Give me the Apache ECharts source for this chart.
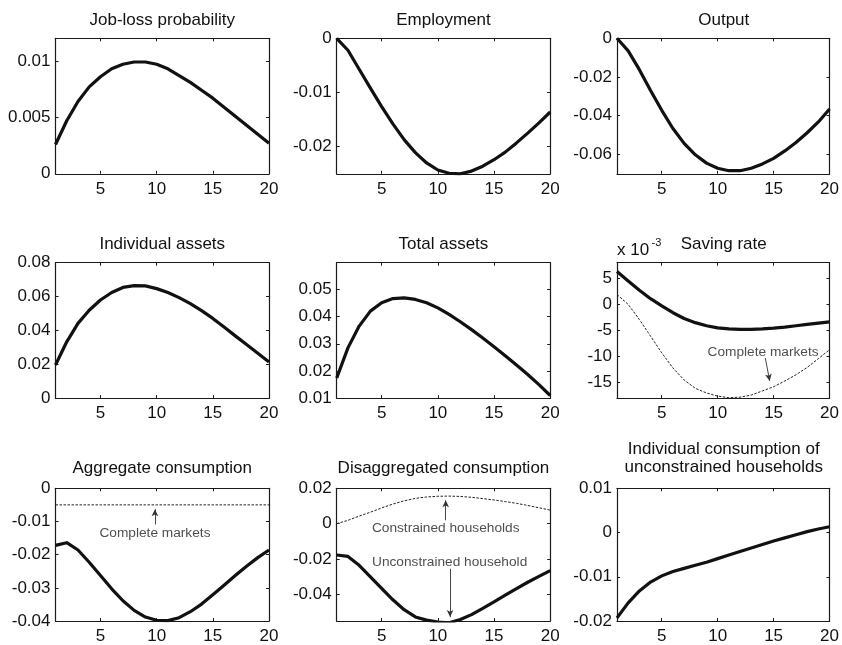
<!DOCTYPE html>
<html>
<head>
<meta charset="utf-8">
<script src="https://cdn.jsdelivr.net/npm/echarts@6/dist/echarts.min.js"></script>
<style>
html,body{margin:0;padding:0;background:#fff;}
#chart{width:842px;height:645px;}
</style>
</head>
<body>
<div id="chart"></div>
<script>
// ---------- data ----------
const periods = [1,2,3,4,5,6,7,8,9,10,11,12,13,14,15,16,17,18,19,20];
const xTicks = [5,10,15,20];

const jobLoss = [0.0026,0.0047,0.0064,0.0077,0.0086,0.0093,0.0097,0.0099,0.0099,0.0097,0.0093,0.0087,0.0081,0.0074,0.0067,0.0059,0.0051,0.0043,0.0035,0.0027];
const employment = [0,-0.0022,-0.0057,-0.0092,-0.0126,-0.0158,-0.0187,-0.0211,-0.0230,-0.0243,-0.0249,-0.0250,-0.0245,-0.0236,-0.0224,-0.0210,-0.0193,-0.0175,-0.0156,-0.0136];
const output = [0,-0.0065,-0.0162,-0.0270,-0.0372,-0.0466,-0.0543,-0.0602,-0.0645,-0.0671,-0.0684,-0.0684,-0.0671,-0.0649,-0.0620,-0.0582,-0.0538,-0.0488,-0.0432,-0.0365];
const individualAssets = [0.0196,0.0333,0.0442,0.0519,0.0580,0.0624,0.0654,0.0665,0.0663,0.0647,0.0624,0.0594,0.0558,0.0517,0.0471,0.0420,0.0368,0.0317,0.0265,0.0214];
const totalAssets = [0.0174,0.0285,0.0365,0.0420,0.0451,0.0466,0.0469,0.0463,0.0451,0.0432,0.0408,0.0381,0.0352,0.0321,0.0289,0.0256,0.0222,0.0187,0.0150,0.0110];
// saving rate in units of 10^-3
const savingRate = [6.3,4.5,2.7,1.1,-0.3,-1.6,-2.7,-3.5,-4.1,-4.5,-4.7,-4.8,-4.8,-4.7,-4.55,-4.35,-4.1,-3.85,-3.6,-3.35];
const savingRateComplete = [1.9,0,-2.9,-6.1,-9.3,-12.2,-14.5,-16.1,-17.0,-17.6,-17.9,-17.8,-17.4,-16.6,-15.8,-14.7,-13.5,-12.1,-10.4,-8.7];
const aggConsumption = [-0.0172,-0.0164,-0.0186,-0.0223,-0.0263,-0.0303,-0.0339,-0.0368,-0.0388,-0.0398,-0.0399,-0.0390,-0.0372,-0.0349,-0.0321,-0.0292,-0.0263,-0.0235,-0.0209,-0.0186];
const aggConsumptionComplete = [-0.005,-0.005,-0.005,-0.005,-0.005,-0.005,-0.005,-0.005,-0.005,-0.005,-0.005,-0.005,-0.005,-0.005,-0.005,-0.005,-0.005,-0.005,-0.005,-0.005];
const constrainedCons = [0,0.0019,0.0043,0.0065,0.0089,0.0111,0.0129,0.0143,0.0151,0.0155,0.0156,0.0154,0.0149,0.0142,0.0134,0.0125,0.0115,0.0103,0.0090,0.0077];
const unconstrainedCons = [-0.0177,-0.0185,-0.0235,-0.0300,-0.0366,-0.0430,-0.0486,-0.0527,-0.0545,-0.0556,-0.0560,-0.0542,-0.0514,-0.0479,-0.0442,-0.0404,-0.0367,-0.0331,-0.0298,-0.0265];
const indivConsUnconstrained = [-0.0193,-0.0159,-0.0132,-0.0112,-0.0098,-0.0088,-0.0081,-0.0074,-0.0067,-0.0059,-0.0051,-0.0043,-0.0035,-0.0027,-0.0019,-0.0012,-0.0005,0.0002,0.0008,0.0013];

const titles = ['Job-loss probability','Employment','Output','Individual assets','Total assets','Saving rate','Aggregate consumption','Disaggregated consumption','Individual consumption of\nunconstrained households'];
const yTicks = [
  [0,0.005,0.01],
  [-0.02,-0.01,0],
  [-0.06,-0.04,-0.02,0],
  [0,0.02,0.04,0.06,0.08],
  [0.01,0.02,0.03,0.04,0.05],
  [-15,-10,-5,0,5],
  [-0.04,-0.03,-0.02,-0.01,0],
  [-0.04,-0.02,0,0.02],
  [-0.02,-0.01,0,0.01]
];
const yRanges = [
  [0,0.012],[-0.025,0],[-0.07,0],
  [0,0.08],[0.01,0.0598],[-18,8],
  [-0.04,0],[-0.055,0.02],[-0.02,0.01]
];

// ---------- layout ----------
const FONT = "'Liberation Sans', Arial, Helvetica, sans-serif";
const colLeft = [55.5, 336.7, 617];
const rowTop = [38.3, 262.7, 488.3];
const W = 213.5, H = 135.5;
const titleY = [20, 244.3, 468.3];

const grids = [], xAxes = [], yAxes = [], series = [], graphics = [];
const axisLine = {show:true, onZero:false, lineStyle:{color:'#1a1a1a', width:1.2}};
const tickStyle = {color:'#1a1a1a', width:1};
const fmt = v => String(parseFloat(Number(v).toPrecision(8)));

for (let i = 0; i < 9; i++) {
  const r = Math.floor(i/3), c = i % 3;
  grids.push({left:colLeft[c], top:rowTop[r], width:W, height:H});
  xAxes.push({type:'value', gridIndex:i, min:1, max:20, position:'bottom',
    axisLine, splitLine:{show:false},
    axisTick:{show:true, inside:true, length:3, customValues:xTicks, lineStyle:tickStyle},
    axisLabel:{show:true, customValues:xTicks, fontSize:17, color:'#111', fontFamily:FONT, margin:7}});
  xAxes.push({type:'value', gridIndex:i, min:1, max:20, position:'top',
    axisLine, splitLine:{show:false},
    axisTick:{show:true, inside:true, length:3, customValues:xTicks, lineStyle:tickStyle},
    axisLabel:{show:false, customValues:xTicks}});
  yAxes.push({type:'value', gridIndex:i, min:yRanges[i][0], max:yRanges[i][1], position:'left',
    axisLine, splitLine:{show:false},
    axisTick:{show:true, inside:true, length:3, customValues:yTicks[i], lineStyle:tickStyle},
    axisLabel:{show:true, customValues:yTicks[i], fontSize:17, color:'#111', fontFamily:FONT, margin:5, formatter:fmt}});
  yAxes.push({type:'value', gridIndex:i, min:yRanges[i][0], max:yRanges[i][1], position:'right',
    axisLine, splitLine:{show:false},
    axisTick:{show:true, inside:true, length:3, customValues:yTicks[i], lineStyle:tickStyle},
    axisLabel:{show:false, customValues:yTicks[i]}});
  graphics.push({type:'text', x:colLeft[c] + W/2, y: (i === 8 ? 458.5 : titleY[r]),
    style:{text:titles[i], fill:'#111', font:'17px ' + FONT, textAlign:'center', textVerticalAlign:'middle', lineHeight:18.5}});
}

function solid(i, vals) {
  series.push({type:'line', xAxisIndex:2*i, yAxisIndex:2*i, symbol:'none', silent:true, clip:true,
    data: periods.map((t,k)=>[t, vals[k]]),
    lineStyle:{color:'#111', width:3.2, cap:'butt', join:'round'}});
}
function dashed(i, vals) {
  series.push({type:'line', xAxisIndex:2*i, yAxisIndex:2*i, symbol:'none', silent:true, clip:true,
    data: periods.map((t,k)=>[t, vals[k]]),
    lineStyle:{color:'#222', width:1, type:[2.5,1.5]}});
}
function note(i, t, v, text) {
  series.push({type:'scatter', xAxisIndex:2*i, yAxisIndex:2*i, silent:true, symbolSize:1,
    itemStyle:{color:'rgba(0,0,0,0)'}, data:[[t, v]],
    label:{show:true, position:'inside', formatter:text, fontSize:13.7, color:'#222', fontFamily:FONT}});
}
function arrow(i, t1, v1, t2, v2) {
  series.push({type:'line', xAxisIndex:2*i, yAxisIndex:2*i, symbol:'none', silent:true, data:[],
    markLine:{silent:true, animation:false, symbol:['none','arrow'], symbolSize:[5,7],
      label:{show:false}, lineStyle:{color:'#333', width:0.9, type:'solid'},
      data:[[{coord:[t1,v1]},{coord:[t2,v2]}]]}});
}

solid(0, jobLoss);
solid(1, employment);
solid(2, output);
solid(3, individualAssets);
solid(4, totalAssets);
dashed(5, savingRateComplete);
solid(5, savingRate);
note(5, 14.06, -9.1, 'Complete markets');
arrow(5, 14.26, -10.3, 14.65, -14.7);
dashed(6, aggConsumptionComplete);
solid(6, aggConsumption);
note(6, 9.85, -0.0134, 'Complete markets');
arrow(6, 9.85, -0.0109, 9.85, -0.0063);
dashed(7, constrainedCons);
solid(7, unconstrainedCons);
note(7, 10.7, -0.0026, 'Constrained households');
arrow(7, 10.7, 0.0019, 10.7, 0.0132);
note(7, 11.05, -0.0218, 'Unconstrained household');
arrow(7, 11.09, -0.0255, 11.09, -0.0528);
solid(8, indivConsUnconstrained);

// x 10^-3 multiplier label for saving rate panel
graphics.push({type:'text', x:617, y:250, style:{text:'x 10', fill:'#111', font:'17px ' + FONT, textVerticalAlign:'middle'}});
graphics.push({type:'text', x:651.5, y:242.5, style:{text:'-3', fill:'#111', font:'11px ' + FONT, textVerticalAlign:'middle'}});

const chart = echarts.init(document.getElementById('chart'), null, {renderer:'canvas'});
chart.setOption({
  animation:false,
  backgroundColor:'#fff',
  grid:grids, xAxis:xAxes, yAxis:yAxes, series:series, graphic:graphics
});
</script>
</body>
</html>
